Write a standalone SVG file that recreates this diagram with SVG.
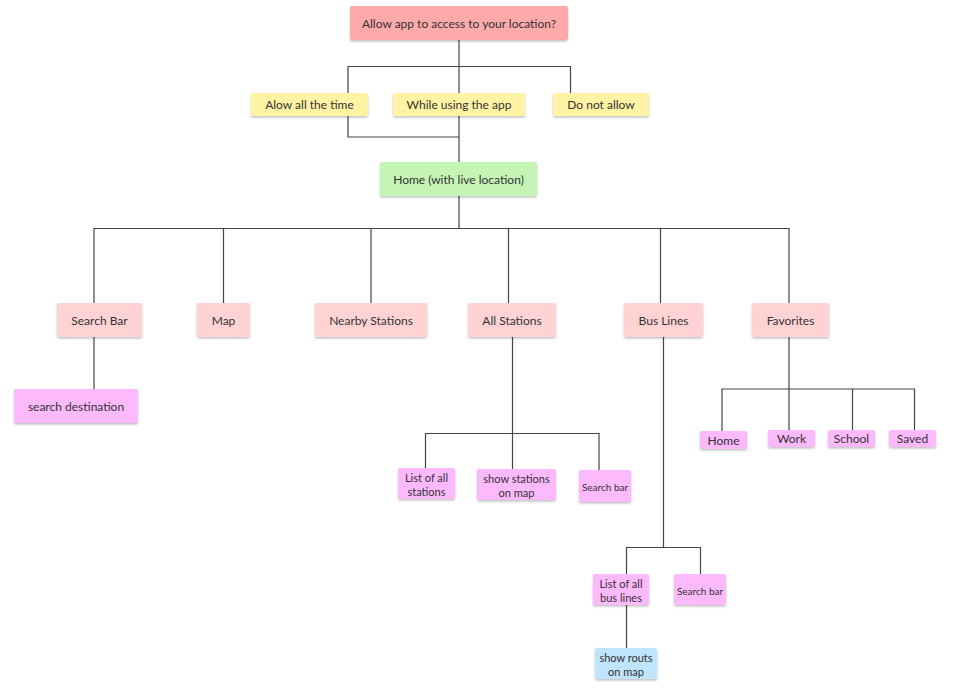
<svg xmlns="http://www.w3.org/2000/svg" width="962" height="692" viewBox="0 0 962 692">
<defs>
<filter id="sh" x="-20%" y="-30%" width="140%" height="180%">
<feDropShadow dx="0" dy="1.5" stdDeviation="1" flood-color="#000" flood-opacity="0.25"/>
</filter>
<style>
.n rect{filter:url(#sh);}
text{font-family:Lato,"Noto Sans","Liberation Sans",sans-serif;fill:#333;text-anchor:middle;dominant-baseline:central;}
.t12{font-size:12px;}
.t11{font-size:11px;}
.t10{font-size:10px;}
.red{fill:#ffaaaa;}
.yel{fill:#fff4a3;}
.grn{fill:#c4f5b7;}
.pk{fill:#ffd3d3;}
.mg{fill:#fcb9fc;}
.bl{fill:#bfe4fb;}
#conn path{fill:none;stroke:#444;stroke-width:1.2;}
</style>
</defs>
<rect width="962" height="692" fill="#fff"/>
<g id="conn">
<path d="M459 40V93M348 93V66.5H570.5V93"/>
<path d="M348 116V137H459.5M459 116V162"/>
<path d="M459 196V228.5M94 303V228.5H789V303M223.5 228.5V303M371 228.5V303M508.5 228.5V303M660.5 228.5V303"/>
<path d="M94 337V389"/>
<path d="M512.5 337V469M425.5 468V433.5H599V470"/>
<path d="M663.5 337V547.5M626.5 574V547.5H700.5V574"/>
<path d="M626.5 605V648"/>
<path d="M789 337V430M722 431V389H914.5V430M852.5 389V430"/>
</g>
<g id="n-top" class="n"><rect class="red" x="350" y="6" width="218" height="34" rx="2"/><text class="t12" x="459" y="23">Allow app to access to your location?</text></g>
<g id="n-always" class="n"><rect class="yel" x="251" y="93" width="117" height="23" rx="2"/><text class="t12" x="309.5" y="104.5">Alow all the time</text></g>
<g id="n-while" class="n"><rect class="yel" x="393" y="93" width="132" height="23" rx="2"/><text class="t12" x="459" y="104.5">While using the app</text></g>
<g id="n-deny" class="n"><rect class="yel" x="553" y="93" width="96" height="23" rx="2"/><text class="t12" x="601" y="104.5">Do not allow</text></g>
<g id="n-home" class="n"><rect class="grn" x="380" y="162" width="157" height="34" rx="2"/><text class="t12" x="458.5" y="179">Home (with live location)</text></g>
<g id="n-search" class="n"><rect class="pk" x="57" y="303" width="85" height="34" rx="2"/><text class="t12" x="99.5" y="320">Search Bar</text></g>
<g id="n-map" class="n"><rect class="pk" x="197" y="303" width="53" height="34" rx="2"/><text class="t12" x="223.5" y="320">Map</text></g>
<g id="n-nearby" class="n"><rect class="pk" x="315" y="303" width="112" height="34" rx="2"/><text class="t12" x="371" y="320">Nearby Stations</text></g>
<g id="n-allst" class="n"><rect class="pk" x="468" y="303" width="88" height="34" rx="2"/><text class="t12" x="512" y="320">All Stations</text></g>
<g id="n-bus" class="n"><rect class="pk" x="624" y="303" width="79" height="34" rx="2"/><text class="t12" x="663.5" y="320">Bus Lines</text></g>
<g id="n-fav" class="n"><rect class="pk" x="752" y="303" width="77" height="34" rx="2"/><text class="t12" x="790.5" y="320">Favorites</text></g>
<g id="n-dest" class="n"><rect class="mg" x="14" y="389" width="124" height="34" rx="2"/><text class="t12" x="76" y="406">search destination</text></g>
<g id="n-fhome" class="n"><rect class="mg" x="700" y="431" width="47" height="18" rx="2"/><text class="t12" x="723.5" y="440">Home</text></g>
<g id="n-work" class="n"><rect class="mg" x="768" y="430" width="47" height="17" rx="2"/><text class="t12" x="791.5" y="438.5">Work</text></g>
<g id="n-school" class="n"><rect class="mg" x="828" y="430" width="47" height="17" rx="2"/><text class="t12" x="851.5" y="438.5">School</text></g>
<g id="n-saved" class="n"><rect class="mg" x="889" y="430" width="47" height="17" rx="2"/><text class="t12" x="912.5" y="438.5">Saved</text></g>
<g id="n-liststat" class="n"><rect class="mg" x="398" y="468" width="57" height="31" rx="2"/><text class="t11" x="426.5" y="477">List of all</text><text class="t11" x="426.5" y="491">stations</text></g>
<g id="n-showst" class="n"><rect class="mg" x="477" y="469" width="79" height="31" rx="2"/><text class="t11" x="516.5" y="478">show stations</text><text class="t11" x="516.5" y="492">on map</text></g>
<g id="n-sbar1" class="n"><rect class="mg" x="579" y="470" width="52" height="32" rx="2"/><text class="t10" x="605" y="487">Search bar</text></g>
<g id="n-listbus" class="n"><rect class="mg" x="593" y="574" width="56" height="31" rx="2"/><text class="t11" x="621" y="583">List of all</text><text class="t11" x="621" y="597">bus lines</text></g>
<g id="n-sbar2" class="n"><rect class="mg" x="674" y="574" width="52" height="31" rx="2"/><text class="t10" x="700" y="590.5">Search bar</text></g>
<g id="n-routs" class="n"><rect class="bl" x="595" y="648" width="62" height="31" rx="2"/><text class="t11" x="626" y="657">show routs</text><text class="t11" x="626" y="671">on map</text></g>
</svg>
